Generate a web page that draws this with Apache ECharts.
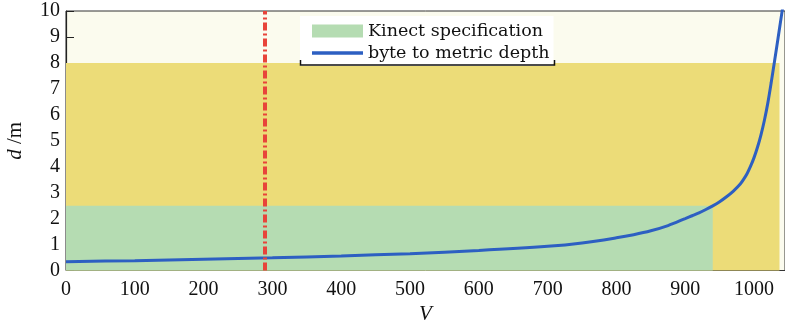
<!DOCTYPE html>
<html><head><meta charset="utf-8">
<script src="https://cdn.jsdelivr.net/npm/echarts@6/dist/echarts.min.js"></script>
<style>html,body{margin:0;padding:0;background:#fff}#c{width:785px;height:322px}</style>
</head><body><div id="c"></div>
<script>
// ---- data ----
const curveV = [0, 100, 200, 300, 400, 500, 600, 700, 750, 800, 825, 850, 875, 900, 910, 920, 930, 940, 950, 960, 970, 980, 985, 990, 995, 1000, 1005, 1010, 1015, 1020, 1025, 1030, 1035, 1040, 1045];
const curveD = [0.34, 0.38, 0.43, 0.49, 0.56, 0.65, 0.77, 0.93, 1.06, 1.26, 1.38, 1.53, 1.73, 2.00, 2.11, 2.22, 2.35, 2.49, 2.65, 2.84, 3.06, 3.33, 3.52, 3.74, 4.02, 4.35, 4.75, 5.22, 5.78, 6.45, 7.25, 8.10, 8.97, 9.85, 10.73];
const yellowV = [0, 1037];   // region x extent
const yellowD = [0, 8];      // region y extent
const greenV = [0, 940];     // Kinect specification, x extent
const greenD = [0, 2.5];     // y extent
const redLineV = 289;
const legendNames = ['Kinect specification', 'byte to metric depth'];

const font = 'Liberation Serif';
const chart = echarts.init(document.getElementById('c'));
chart.setOption({
  animation: false,
  textStyle: { fontFamily: font },
  grid: { left: 66, right: 0, top: 11, bottom: 51.5, show: true, outerBoundsMode: 'none', containLabel: false,
          backgroundColor: '#fbfbee', borderColor: '#333', borderWidth: 1 },
  legend: {
    orient: 'vertical', left: 300, top: 16,
    padding: [4, 4, 2, 12], itemGap: 0,
    backgroundColor: '#ffffff',
    itemWidth: 51, itemHeight: 13,
    textStyle: { fontFamily: 'DejaVu Serif', fontSize: 17.5, color: '#111', lineHeight: 22 },
    data: [
      { name: legendNames[0], icon: 'rect' },
      { name: legendNames[1], icon: 'path://M0,0 L60,0 L60,4 L0,4 Z' }
    ]
  },
  graphic: [{
    type: 'polyline', silent: true, z: 100,
    shape: { points: [[300.5, 60], [300.5, 65], [554.5, 65], [554.5, 60]] },
    style: { stroke: '#111', lineWidth: 1.5, fill: null }
  }],
  xAxis: {
    type: 'value', min: 0, max: 1045, interval: 100,
    name: '{i|V}', nameLocation: 'middle', nameGap: 28,
    nameTextStyle: { fontFamily: font, fontSize: 21, color: '#111', rich: { i: { fontStyle: 'italic', fontFamily: font, fontSize: 21 } } },
    axisLine: { show: false },
    axisTick: { show: false },
    splitLine: { show: false },
    axisLabel: { fontFamily: font, fontSize: 20, color: '#111', margin: 9, formatter: v => (v % 100 === 0 ? String(v) : '') }
  },
  yAxis: {
    type: 'value', min: 0, max: 10, interval: 1,
    name: '{i|d} /m', nameLocation: 'middle', nameGap: 40,
    nameTextStyle: { fontFamily: font, fontSize: 21, color: '#111', rich: { i: { fontStyle: 'italic', fontFamily: font, fontSize: 21 } } },
    axisLine: { show: true, lineStyle: { color: '#222', width: 1.2 } },
    axisTick: { show: true, inside: true, length: 8, lineStyle: { color: '#222', width: 1 } },
    splitLine: { show: false },
    axisLabel: { fontFamily: font, fontSize: 20, color: '#111', margin: 6 }
  },
  series: [
    {
      name: 'sensor range', type: 'line', data: [], z: 1, silent: true,
      markArea: { silent: true, itemStyle: { color: '#ecdc78', opacity: 1 },
        data: [[{ coord: [yellowV[0], yellowD[0]] }, { coord: [yellowV[1], yellowD[1]] }]] }
    },
    {
      name: legendNames[0], type: 'line', data: [], z: 2, silent: true,
      itemStyle: { color: '#b5dcb2' }, lineStyle: { color: '#b5dcb2' },
      markArea: { silent: true, itemStyle: { color: '#b5dcb2', opacity: 1 },
        data: [[{ coord: [greenV[0], greenD[0]] }, { coord: [greenV[1], greenD[1]] }]] }
    },
    {
      name: legendNames[1], type: 'line', z: 4, silent: true,
      data: curveV.map((v, i) => [v, curveD[i]]),
      showSymbol: false, symbol: 'none', smooth: 0.3, clip: true,
      itemStyle: { color: '#2d5fc2' },
      lineStyle: { color: '#2d5fc2', width: 3 }
    },
    {
      name: 'threshold', type: 'line', data: [], z: 5, silent: true,
      markLine: { silent: true, symbol: 'none', label: { show: false },
        lineStyle: { color: '#e8443a', width: 4, type: [8, 3, 2, 3], opacity: 1 },
        data: [{ xAxis: redLineV }] }
    }
  ]
});
</script></body></html>
